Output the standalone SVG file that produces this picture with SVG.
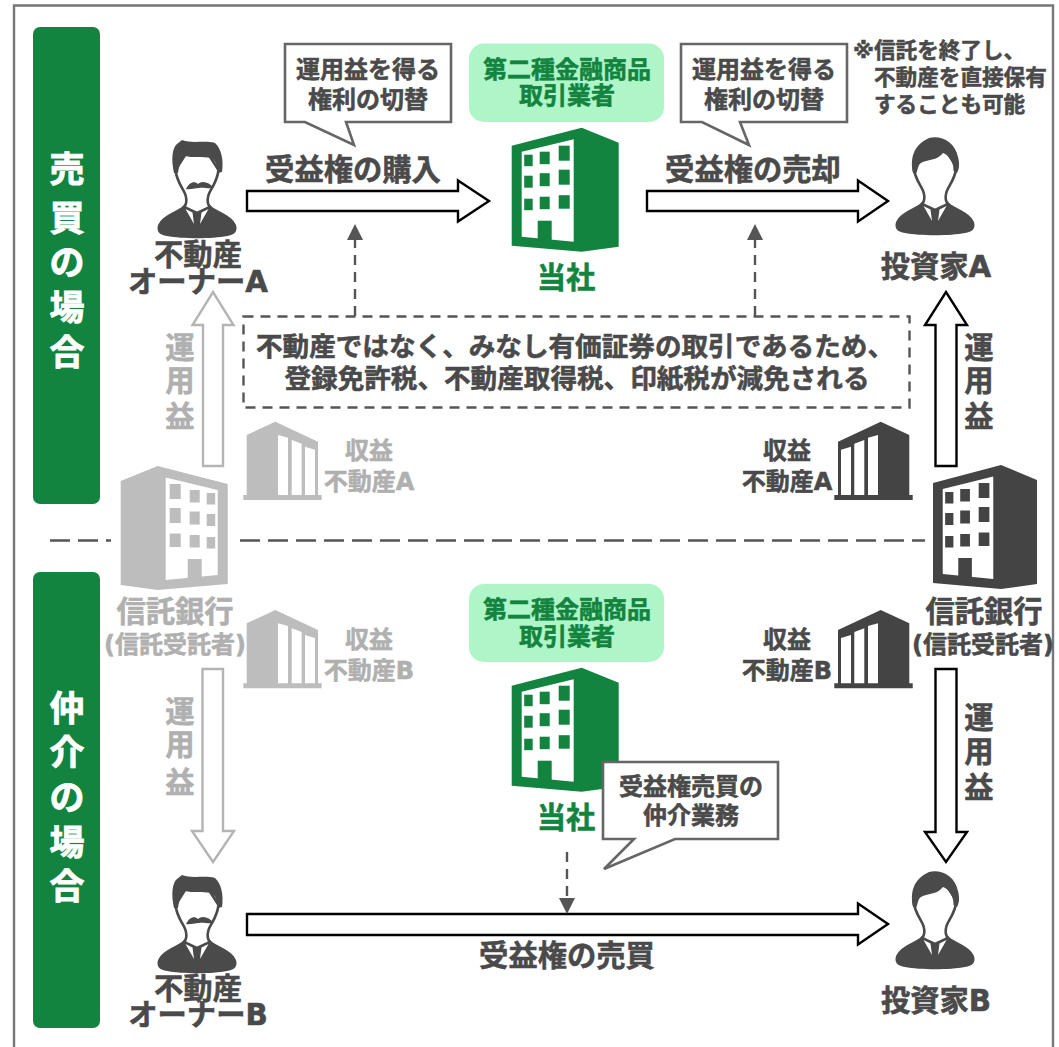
<svg xmlns="http://www.w3.org/2000/svg" width="1059" height="1047" viewBox="0 0 1059 1047">
<style>
text{font-family:"DejaVu Sans","Noto Sans CJK JP",sans-serif;font-weight:700;text-anchor:middle;fill:#4a4a4a;stroke:#4a4a4a;stroke-width:.55}
.g{fill:#12843f;stroke:#12843f}.l{fill:#b0b0b0;stroke:#b0b0b0}.w{fill:#fff;stroke:#fff;stroke-width:.8}
.s29{font-size:29.3px}.s24{font-size:24px}.s26{font-size:26.6px}.s21{font-size:21.600px;text-anchor:start}.s23{font-size:24px}.s32{font-size:35px}.sp{font-size:24px}
.arrow{fill:#fff;stroke:#000;stroke-width:2.4}
.arrowl{fill:#fff;stroke:#b4b4b4;stroke-width:2.4}
.dash{fill:none;stroke:#555;stroke-width:2.4;stroke-dasharray:10 7}
.head{fill:#555}
.call{fill:#fff;stroke:#666;stroke-width:2.6}
.bar{fill:#12843f}
.pill{fill:#aef5c8}
.dk{fill:#4a4a4a}
.face{fill:#fff;stroke:#4a4a4a;stroke-width:2.6;stroke-linejoin:round}
</style>
<defs>
<g id="bld">
<path d="M0,18 L70,0 L107,15 L107,119 L70,124 L0,118Z"/>
<path fill="#fff" d="M10,24 L62,11.500 L62,114 L10,109Z"/>
<g>
<rect x="12.500" y="27" width="8.500" height="11.500"/><rect x="28" y="24" width="10" height="12.500"/><rect x="47" y="18" width="11" height="15"/>
<rect x="12.500" y="48" width="8.500" height="12"/><rect x="28" y="45.500" width="10" height="13"/><rect x="47" y="42" width="11" height="15"/>
<rect x="12.500" y="71" width="8.500" height="11.500"/><rect x="28" y="69" width="10" height="12.500"/><rect x="47" y="67.500" width="11" height="13.500"/>
<rect x="26" y="93" width="14" height="20"/>
</g>
</g>
<g id="small">
<path d="M3.400,13.300 L32,0 L74.700,20 L74.700,73.300 L78.400,73.300 L78.400,78.300 L0,78.300 L0,73.300 L3.400,73.300Z"/>
<path fill="#fff" d="M34.700,13.300 L44.700,16 L44.700,73.300 L34.700,73.300Z M48.400,18.300 L58.400,22 L58.400,73.300 L48.400,73.300Z M61.700,25 L71.700,28 L71.700,73.300 L61.700,73.300Z"/>
</g>
<g id="torso">
<path class="dk" d="M-13,65 C-20,72 -34,74 -39,85 C-41,92 -37,95 -30,96 C-15,99 15,99 30,96 C37,95 41,92 39,85 C34,74 20,72 13,65Z"/>
<path class="face" d="M-21.500,30 C-20,44 -12,50 -11,57 C-10,62 -11,65 -13,67 L0,73 L13,67 C11,65 10,62 11,57 C12,50 20,44 21.500,30 L10,12 L-10,12Z"/>
<path fill="#fff" d="M-11.500,69 L-4.500,72.500 L-3,84 Z M11.500,69 L4.500,72.500 L3,84 Z"/>
</g>
<g id="person">
<use href="#torso"/>
<path class="dk" d="M-22,36 C-25,22 -22,8 -6,1 C6,-2 20,5 23,20 C25,28 24,32 22,36 L18.500,34 C19,26 14,18 8,16 C2,24 -8,22 -14,26 C-17,28 -17,32 -18.500,36Z"/>
</g>
<g id="owner">
<use href="#torso"/>
<path class="dk" d="M-23,33 C-26,20 -25,8 -20,4 L-15,0 C-5,4 8,0 18,3 C24,8 27,20 25,32 L20.500,33 C21,26 18,20 14,18 C5,16 -5,18 -12,16 C-16,20 -18,26 -19,33Z"/>
<path class="dk" d="M-11,49 C-8,43 -3,40 1,44 C5,40 12,42 17,48 C11,49 6,47 2,48 C-3,48 -7,50 -11,49Z"/>
</g>
</defs>
<rect width="1059" height="1047" fill="#fff"/>
<path d="M14,1047 L14,5.500 L1053,5.500 L1053,1047" fill="none" stroke="#777" stroke-width="2.400"/>

<g id="divider" fill="none" stroke="#555" stroke-width="2.400">
<path d="M50,540.500 H111" stroke-dasharray="20 8"/>
<path d="M240,540.500 H925" stroke-dasharray="20 8"/>
</g>

<g id="sidebar-sale">
<rect class="bar" x="33" y="27" width="67" height="477" rx="7"/>
<text class="w s32" x="67" y="182">売</text><text class="w s32" x="67" y="231">買</text><text class="w s32" x="67" y="275">の</text><text class="w s32" x="67" y="320">場</text><text class="w s32" x="67" y="365">合</text>
</g>
<g id="sidebar-broker">
<rect class="bar" x="33" y="572" width="67" height="456" rx="7"/>
<text class="w s32" x="67" y="721">仲</text><text class="w s32" x="67" y="765">介</text><text class="w s32" x="67" y="810">の</text><text class="w s32" x="67" y="855">場</text><text class="w s32" x="67" y="899">合</text>
</g>

<g id="connectors">
<path class="arrow" d="M247,191 H458 V180.500 L489,201 L458,221.500 V211 H247Z"/>
<path class="arrow" d="M647,191 H858 V180.500 L888,201 L858,221.500 V211 H647Z"/>
<path class="arrow" d="M247,914 H858 V903.500 L888,924 L858,944.500 V935 H247Z"/>
<path class="arrowl" d="M203,466 V325 H192.500 L213,292 L233.500,325 H223 V466Z"/>
<path class="arrow" d="M935.500,466 V325 H925 L946,292 L967,325 H956.500 V466Z"/>
<path class="arrowl" d="M202.500,669 V831 H192 L213,862 L234,831 H223 V669Z"/>
<path class="arrow" d="M935.500,669 V832 H925 L946,862 L967,832 H956.500 V669Z"/>
<path class="dash" d="M355,316 V240"/>
<path class="head" d="M355,224 L363,240 H347Z"/>
<path class="dash" d="M755,316 V240"/>
<path class="head" d="M755,224 L763,240 H747Z"/>
<path class="dash" d="M567,852 V898"/>
<path class="head" d="M567,914 L575,898 H559Z"/>
</g>

<g id="owner-a">
<use href="#owner" x="197" y="140"/>
<text class="s29" x="198" y="265">不動産</text>
<text class="s29" x="198" y="292">オーナーA</text>
</g>
<g id="callout-left">
<path class="call" d="M285,44 H451 V122 H346 L354,145 L305,122 H285Z"/>
<text class="s24" x="368" y="78">運用益を得る</text>
<text class="s24" x="368" y="108">権利の切替</text>
</g>
<g id="broker-label-top">
<rect class="pill" x="469" y="43.500" width="195" height="78.500" rx="15"/>
<text class="g s24" x="567" y="78">第二種金融商品</text>
<text class="g s24" x="567" y="104">取引業者</text>
</g>
<g id="company-top">
<use href="#bld" x="511.700" y="127.700" fill="#12843f"/>
<text class="g s29" x="566" y="288">当社</text>
</g>
<g id="callout-right">
<path class="call" d="M681,44 H847 V122 H740 L749,145 L702,122 H681Z"/>
<text class="s24" x="764" y="78">運用益を得る</text>
<text class="s24" x="764" y="108">権利の切替</text>
</g>
<g id="note">
<text class="s21" x="853" y="58">※信託を終了し、</text>
<text class="s21" x="874" y="85">不動産を直接保有</text>
<text class="s21" x="874" y="112">することも可能</text>
</g>
<g id="investor-a">
<use href="#person" x="935" y="137"/>
<text class="s29" x="936" y="277">投資家A</text>
</g>
<text class="s29" x="353" y="180">受益権の購入</text>
<text class="s29" x="753" y="180">受益権の売却</text>

<g id="notice">
<rect x="243.500" y="316.500" width="666" height="91" fill="none" stroke="#555" stroke-width="2.400" stroke-dasharray="10 7"/>
<text class="s26" x="575" y="356">不動産ではなく、みなし有価証券の取引であるため、</text>
<text class="s26" x="577" y="388">登録免許税、不動産取得税、印紙税が減免される</text>
</g>

<g id="yield-left-top">
<text class="l s29" x="180" y="358">運</text><text class="l s29" x="180" y="391">用</text><text class="l s29" x="180" y="427">益</text>
</g>
<g id="yield-right-top">
<text class="s29" x="979" y="358">運</text><text class="s29" x="979" y="391">用</text><text class="s29" x="979" y="427">益</text>
</g>
<g id="property-a-left">
<use href="#small" x="243.300" y="421.700" fill="#bdbdbd"/>
<text class="l s23" x="369" y="459">収益</text><text class="l s23" x="369" y="490">不動産A</text>
</g>
<g id="property-a-right">
<use href="#small" transform="translate(912.700,421.700) scale(-1,1)" fill="#444"/>
<text class="s23" x="787" y="459">収益</text><text class="s23" x="787" y="490">不動産A</text>
</g>
<g id="trust-left">
<use href="#bld" transform="translate(227.700,466) scale(-1,1)" fill="#bdbdbd"/>
<text class="l s29" x="175" y="622">信託銀行</text>
<text class="l sp" x="175" y="653">(信託受託者)</text>
</g>
<g id="trust-right">
<use href="#bld" transform="translate(933,465) scale(0.972,1)" fill="#444"/>
<text class="s29" x="984" y="622">信託銀行</text>
<text class="sp" x="983" y="653">(信託受託者)</text>
</g>
<g id="property-b-left">
<use href="#small" x="243.300" y="610" fill="#bdbdbd"/>
<text class="l s23" x="369" y="648">収益</text><text class="l s23" x="369" y="679">不動産B</text>
</g>
<g id="property-b-right">
<use href="#small" transform="translate(912.700,610) scale(-1,1)" fill="#444"/>
<text class="s23" x="787" y="648">収益</text><text class="s23" x="787" y="679">不動産B</text>
</g>
<g id="broker-label-bottom">
<rect class="pill" x="469" y="584" width="195" height="78" rx="15"/>
<text class="g s24" x="567" y="618">第二種金融商品</text>
<text class="g s24" x="567" y="645">取引業者</text>
</g>
<g id="company-bottom">
<use href="#bld" x="511.700" y="667.700" fill="#12843f"/>
<text class="g s29" x="566" y="828">当社</text>
</g>
<g id="callout-bottom">
<path class="call" d="M603,762 H778 V839 H675 L604,869 L634,839 H603Z"/>
<text class="s24" x="691" y="795">受益権売買の</text>
<text class="s24" x="691" y="824">仲介業務</text>
</g>
<g id="yield-left-bottom">
<text class="l s29" x="180" y="722">運</text><text class="l s29" x="180" y="755">用</text><text class="l s29" x="180" y="793">益</text>
</g>
<g id="yield-right-bottom">
<text class="s29" x="979" y="728">運</text><text class="s29" x="979" y="762">用</text><text class="s29" x="979" y="798">益</text>
</g>
<g id="owner-b">
<use href="#owner" x="197" y="875"/>
<text class="s29" x="198" y="999">不動産</text>
<text class="s29" x="198" y="1025">オーナーB</text>
</g>
<text class="s29" x="567" y="966">受益権の売買</text>
<g id="investor-b">
<use href="#person" x="935" y="871"/>
<text class="s29" x="936" y="1011">投資家B</text>
</g>
</svg>
